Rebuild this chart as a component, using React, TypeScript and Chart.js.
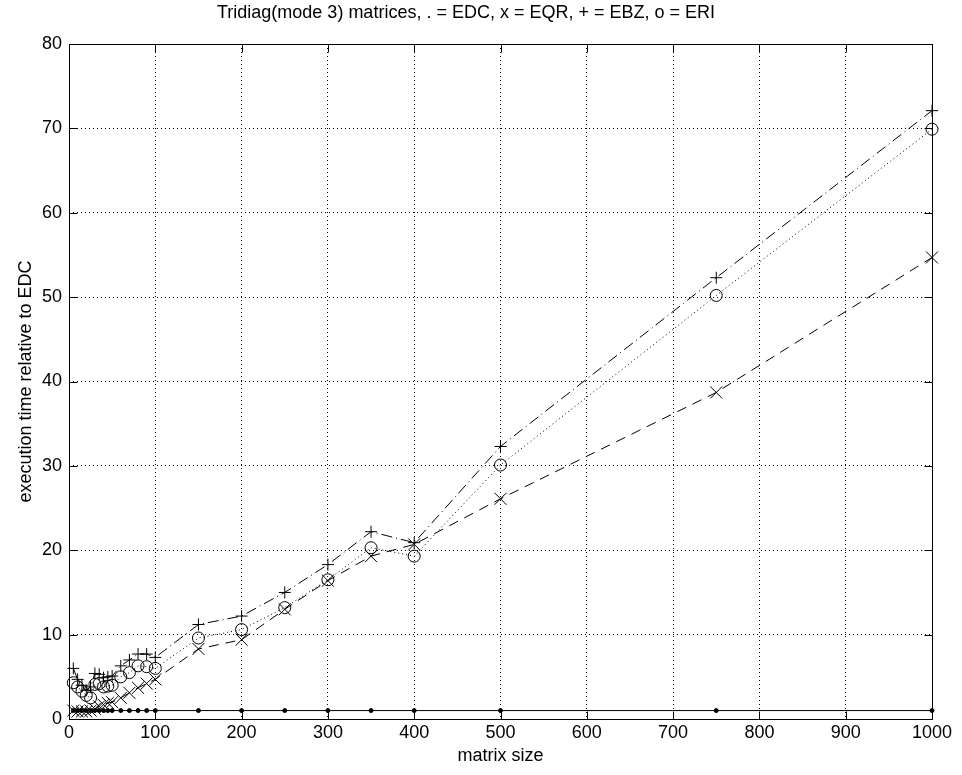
import React, { useEffect, useRef } from "react";
import { Chart, registerables } from "chart.js";

Chart.register(...registerables);

// Matrix sizes tested
const sizes = [5, 10, 15, 20, 25, 30, 35, 40, 45, 50, 60, 70, 80, 90, 100, 150, 200, 250, 300, 350, 400, 500, 750, 1000];

// Execution time relative to EDC, per routine
const edc = [1, 1, 1, 1, 1, 1, 1, 1, 1, 1, 1, 1, 1, 1, 1, 1, 1, 1, 1, 1, 1, 1, 1, 1];
const eqr = [1.0, 0.9, 0.9, 0.9, 1.0, 1.2, 1.5, 1.7, 1.9, 2.0, 2.5, 3.1, 3.7, 4.2, 4.7, 8.3, 9.4, 13.0, 16.4, 19.3, 20.7, 26.1, 38.7, 54.7];
const ebz = [6.0, 4.7, 4.0, 3.4, 3.8, 5.4, 5.3, 4.9, 5.0, 5.1, 6.3, 7.0, 7.7, 7.7, 7.3, 11.2, 12.2, 15.0, 18.3, 22.2, 20.9, 32.3, 52.3, 72.1];
const eri = [4.3, 3.8, 3.3, 2.8, 2.5, 4.1, 4.2, 3.8, 3.9, 4.0, 5.0, 5.5, 6.3, 6.2, 6.0, 9.6, 10.6, 13.2, 16.5, 20.3, 19.3, 30.1, 50.2, 69.9];

// Axis ticks
const xTicks = [0, 100, 200, 300, 400, 500, 600, 700, 800, 900, 1000];
const yTicks = [0, 10, 20, 30, 40, 50, 60, 70, 80];

const titleText = "Tridiag(mode 3) matrices, . = EDC, x = EQR, + = EBZ, o = ERI";
const xLabel = "matrix size";
const yLabel = "execution time relative to EDC";

const FONT = "'Liberation Sans', Arial, Helvetica, sans-serif";
const FS = 18;

const toPoints = (ys: number[]) => sizes.map((s, i) => ({ x: s, y: ys[i] }));

// Axes box with inward tick marks on all four sides
const frameTicks = {
  id: "frameTicks",
  afterDatasetsDraw(chart: any) {
    const { ctx, chartArea: a, scales } = chart;
    const L = Math.round(a.left) + 0.5;
    const R = Math.round(a.right) + 0.5;
    const T = Math.round(a.top) + 0.5;
    const B = Math.round(a.bottom) + 0.5;
    const len = 8;
    ctx.save();
    ctx.setLineDash([]);
    ctx.strokeStyle = "#000";
    ctx.lineWidth = 1;
    ctx.beginPath();
    ctx.rect(L, T, R - L, B - T);
    for (const v of xTicks) {
      const px = Math.round(scales.x.getPixelForValue(v)) + 0.5;
      ctx.moveTo(px, B);
      ctx.lineTo(px, B - len);
      ctx.moveTo(px, T);
      ctx.lineTo(px, T + len);
    }
    for (const v of yTicks) {
      const py = Math.round(scales.y.getPixelForValue(v)) + 0.5;
      ctx.moveTo(L, py);
      ctx.lineTo(L + len, py);
      ctx.moveTo(R, py);
      ctx.lineTo(R - len, py);
    }
    ctx.stroke();
    ctx.restore();
  },
};

export default function App() {
  const ref = useRef<HTMLCanvasElement | null>(null);

  useEffect(() => {
    const canvas = ref.current;
    if (!canvas) return;
    Chart.defaults.font.family = FONT;
    Chart.defaults.color = "#000";

    const common = {
      borderColor: "#000",
      pointBorderColor: "#000",
      pointBackgroundColor: "rgba(0,0,0,0)",
      borderWidth: 1,
      pointBorderWidth: 1,
      tension: 0,
      fill: false,
      clip: false as const,
    };

    const chart = new Chart(canvas, {
      type: "line",
      data: {
        datasets: [
          {
            ...common,
            label: "EDC",
            data: toPoints(edc),
            pointStyle: "circle",
            pointRadius: 2,
            pointBackgroundColor: "#000",
          },
          {
            ...common,
            label: "EQR",
            data: toPoints(eqr),
            borderDash: [10, 7],
            pointStyle: "crossRot",
            pointRadius: 8.5,
          },
          {
            ...common,
            label: "EBZ",
            data: toPoints(ebz),
            borderDash: [11, 4, 1, 4],
            pointStyle: "cross",
            pointRadius: 6,
          },
          {
            ...common,
            label: "ERI",
            data: toPoints(eri),
            borderDash: [1, 3],
            pointStyle: "circle",
            pointRadius: 6,
          },
        ],
      },
      options: {
        responsive: false,
        animation: false,
        events: [],
        layout: { padding: { left: 0, right: 30, top: 0, bottom: 0 } },
        plugins: {
          legend: { display: false },
          tooltip: { enabled: false },
          title: {
            display: true,
            text: titleText,
            color: "#000",
            font: { family: FONT, size: FS, weight: "normal" },
            padding: { top: 2, bottom: 20.4 },
          },
        },
        scales: {
          x: {
            type: "linear",
            min: 0,
            max: 1000,
            afterFit: (s: any) => {
              s.height = 56;
            },
            afterBuildTicks: (s: any) => {
              s.ticks = xTicks.map((v) => ({ value: v }));
            },
            ticks: {
              color: "#000",
              font: { family: FONT, size: FS },
              padding: 3,
              maxRotation: 0,
              callback: (v: any) => String(v),
            },
            grid: { color: "#000", lineWidth: 1, drawTicks: false },
            border: { display: false, dash: [1, 3] },
            title: {
              display: true,
              text: xLabel,
              color: "#000",
              font: { family: FONT, size: FS },
              padding: { top: 0, bottom: 8 },
            },
          },
          y: {
            type: "linear",
            min: 0,
            max: 80,
            afterFit: (s: any) => {
              s.width = 69;
            },
            afterBuildTicks: (s: any) => {
              s.ticks = yTicks.map((v) => ({ value: v }));
            },
            ticks: {
              color: "#000",
              font: { family: FONT, size: FS },
              padding: 7,
              callback: (v: any) => String(v),
            },
            grid: { color: "#000", lineWidth: 1, drawTicks: false },
            border: { display: false, dash: [1, 3] },
            title: {
              display: true,
              text: yLabel,
              color: "#000",
              font: { family: FONT, size: FS },
              padding: { top: 15, bottom: 0 },
            },
          },
        },
      },
      plugins: [frameTicks],
    } as any);

    return () => chart.destroy();
  }, []);

  return (
    <div style={{ position: "fixed", left: 0, top: 0, width: 962, height: 775, background: "#fff" }}>
      <canvas ref={ref} width={962} height={775} style={{ width: 962, height: 775, display: "block" }} />
    </div>
  );
}
